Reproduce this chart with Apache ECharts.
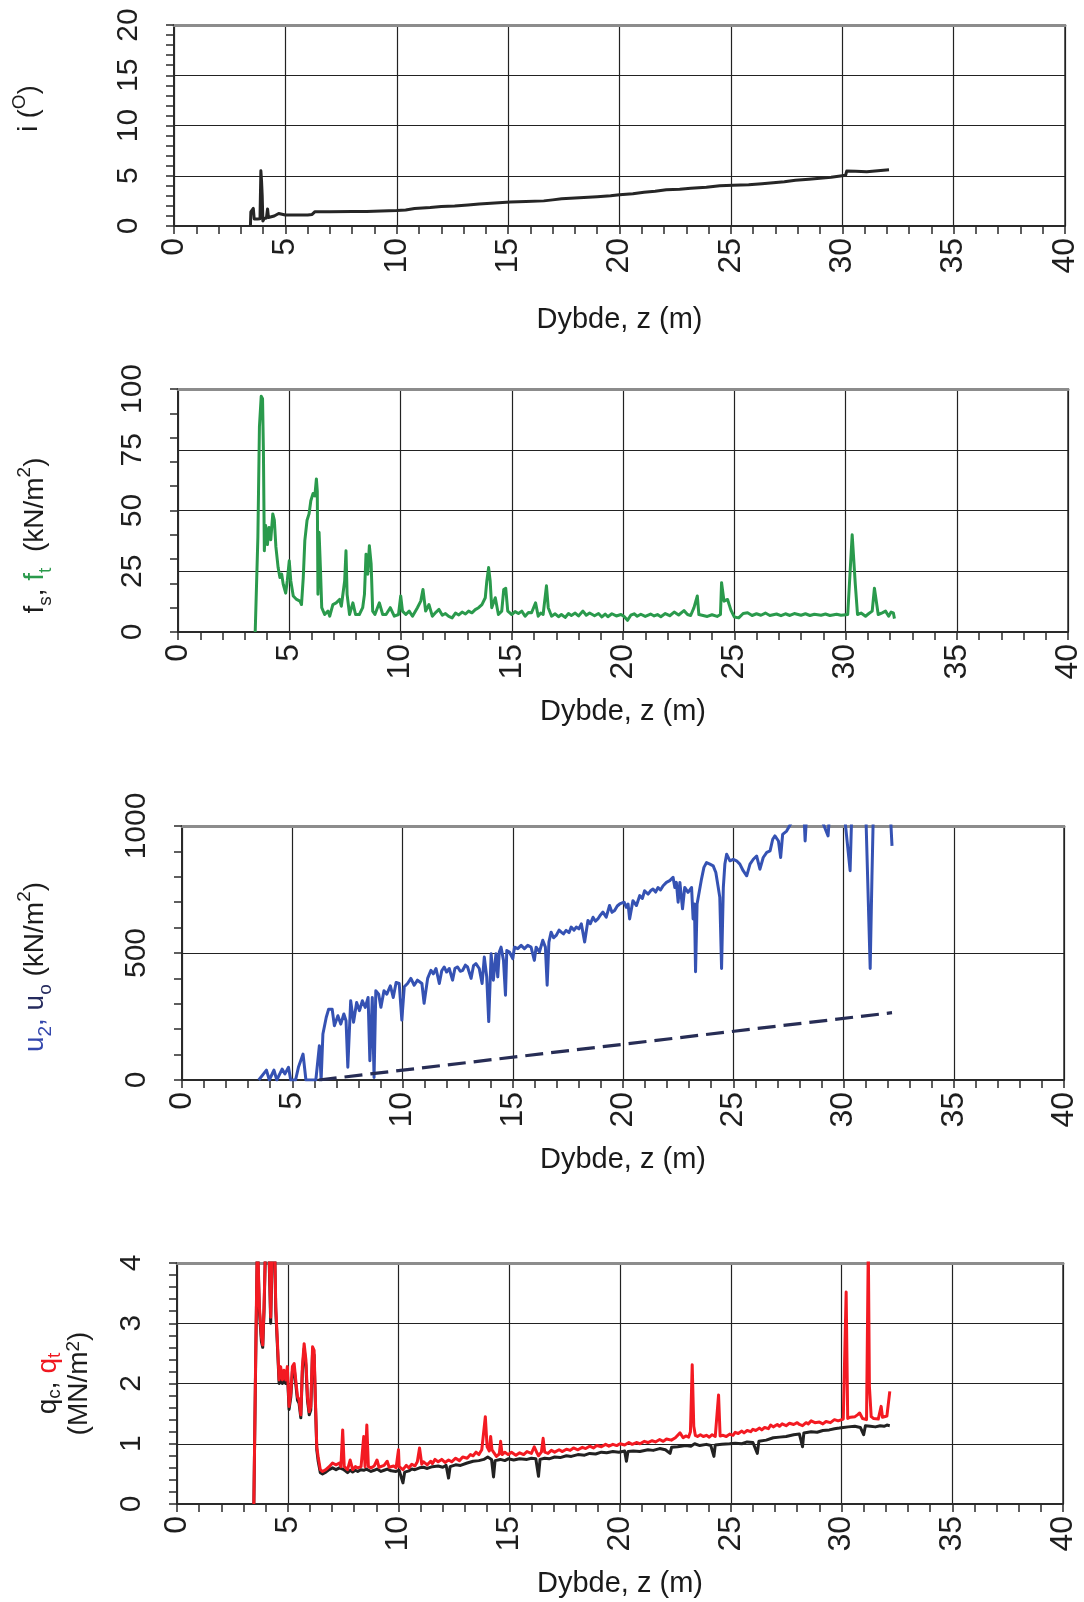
<!DOCTYPE html>
<html>
<head>
<meta charset="utf-8">
<script src="https://cdn.jsdelivr.net/npm/echarts@6/dist/echarts.min.js"></script>
<style>
html,body{margin:0;padding:0;background:#fff;}
#chart{width:1084px;height:1602px;}
</style>
</head>
<body>
<div id="chart"></div>
<script>
// ---------- DATA (depth z in m, value) ----------
const depthTicks = [0, 5, 10, 15, 20, 25, 30, 35, 40];

// Panel 1: inclination i (deg)
const inclination = [[3.43,0],[3.45,1.4],[3.52,1.5],[3.56,1.75],[3.6,0.7],[3.64,0.65],[3.75,0.7],[3.86,0.72],[3.9,5.5],[3.93,4.5],[3.96,3.0],[3.99,0.5],[4.05,0.75],[4.15,0.8],[4.2,1.7],[4.24,0.85],[4.3,0.9],[4.5,1.0],[4.7,1.25],[5.0,1.1],[5.5,1.1],[6.0,1.1],[6.2,1.15],[6.33,1.43],[7.0,1.43],[8.0,1.45],[8.65,1.45],[9.3,1.5],[10.0,1.55],[10.4,1.6],[10.8,1.75],[11.5,1.85],[12.0,1.95],[12.6,2.0],[13.2,2.1],[13.7,2.2],[14.4,2.3],[15.1,2.4],[15.8,2.45],[16.6,2.5],[17.0,2.6],[17.4,2.7],[18.2,2.8],[19.0,2.9],[19.6,3.0],[20.0,3.1],[20.6,3.2],[21.1,3.35],[21.6,3.45],[22.1,3.6],[22.7,3.65],[23.2,3.75],[23.9,3.85],[24.5,4.0],[25.1,4.05],[25.8,4.1],[26.4,4.2],[26.9,4.3],[27.4,4.4],[27.9,4.55],[28.5,4.65],[29.0,4.75],[29.5,4.85],[30.0,5.0],[30.15,5.05],[30.2,5.47],[30.6,5.45],[31.1,5.4],[31.6,5.5],[32.1,5.6]];

// Panel 2: sleeve friction f (kN/m2)
const friction = [[3.47,0],[3.59,39],[3.66,84.5],[3.74,97],[3.8,96],[3.84,73.5],[3.88,33.4],[3.94,43.8],[4.02,36],[4.09,43],[4.17,38],[4.26,48.6],[4.33,46],[4.4,35],[4.5,26.5],[4.58,22.4],[4.66,23.8],[4.73,19.6],[4.84,16],[4.91,21],[5.0,29.3],[5.07,21],[5.18,14.8],[5.33,13.4],[5.48,12.7],[5.55,11.3],[5.63,22.4],[5.7,37.6],[5.8,46],[5.89,48.6],[5.97,54],[6.07,57],[6.15,56],[6.22,63],[6.26,58],[6.29,15.5],[6.34,41],[6.4,26.5],[6.46,10],[6.59,7.2],[6.74,8.6],[6.82,6.5],[6.96,11.3],[7.11,12],[7.26,13.4],[7.34,10.6],[7.41,11.3],[7.49,21],[7.55,33.4],[7.6,15.5],[7.71,7.2],[7.86,12],[7.98,7.2],[8.15,7.2],[8.3,10],[8.38,15.5],[8.45,32],[8.53,23.8],[8.6,35.5],[8.68,28],[8.75,8.6],[8.85,7.2],[9.05,12],[9.2,7.2],[9.35,7.2],[9.54,10],[9.72,6.5],[9.91,7.2],[10.01,14.8],[10.09,8.6],[10.24,7.2],[10.39,8.6],[10.54,6.5],[10.76,10],[10.91,12.7],[11.01,17.5],[11.13,8.6],[11.28,11.3],[11.43,6.5],[11.6,8.2],[11.73,9.3],[11.88,6.9],[12.02,7.6],[12.17,6.4],[12.32,5.8],[12.47,7.8],[12.62,7.0],[12.77,8.2],[12.92,7.4],[13.06,8.6],[13.21,7.9],[13.36,9.2],[13.51,10],[13.66,11.3],[13.81,14.1],[13.88,21],[13.96,26.5],[14.03,21],[14.1,10],[14.26,14.1],[14.4,7.2],[14.55,8.6],[14.64,17.5],[14.73,18],[14.82,8.6],[15.0,7.2],[15.15,8.4],[15.3,7.6],[15.45,8.6],[15.6,6.5],[15.75,8.0],[15.89,7.9],[16.07,12],[16.19,6.5],[16.3,7.8],[16.41,7.2],[16.56,19],[16.64,10],[16.79,6.5],[16.95,7.5],[17.1,6.3],[17.23,7.2],[17.4,6.0],[17.55,7.6],[17.68,6.8],[17.85,7.8],[18.0,6.6],[18.2,8.6],[18.35,6.9],[18.5,7.8],[18.72,6.7],[18.9,7.6],[19.05,6.2],[19.2,7.4],[19.32,6.3],[19.5,7.5],[19.7,6.6],[19.91,7.2],[20.05,6.4],[20.2,4.8],[20.35,6.9],[20.5,7.5],[20.64,6.5],[20.8,7.3],[21.0,6.4],[21.24,7.4],[21.4,6.6],[21.55,7.2],[21.7,6.3],[21.9,7.6],[22.1,6.7],[22.3,8.2],[22.5,7.0],[22.74,8.8],[22.9,7.2],[23.04,6.8],[23.19,10],[23.34,14.8],[23.41,7.2],[23.6,6.8],[23.79,6.4],[24.0,7.1],[24.23,6.4],[24.38,7.2],[24.43,20.3],[24.54,12.7],[24.7,13.4],[24.85,9],[25.0,6.2],[25.2,5.8],[25.4,7.6],[25.6,7.9],[25.8,6.8],[26.0,7.5],[26.2,6.9],[26.4,7.8],[26.6,6.8],[26.9,7.4],[27.1,6.7],[27.3,7.5],[27.5,6.8],[27.7,7.6],[28.0,6.9],[28.2,7.5],[28.4,6.8],[28.6,7.3],[28.9,6.9],[29.1,7.4],[29.3,6.8],[29.6,7.3],[29.8,6.9],[30.1,7.2],[30.3,40],[30.44,19.7],[30.54,7.2],[30.7,7.8],[30.9,6.5],[31.05,7.6],[31.2,8.6],[31.3,18],[31.47,7.2],[31.65,7.9],[31.8,8.6],[31.94,6.5],[32.05,8.2],[32.15,7.9],[32.2,5.5]];

// Panel 3: pore pressure u2 (kN/m2) and hydrostatic u0
const poreU2 = [[3.48,0],[3.83,39],[3.96,0],[4.17,39],[4.3,0],[4.54,43],[4.67,24],[4.83,50],[4.93,0],[5.15,0],[5.28,50],[5.49,102],[5.62,0],[6.07,0],[6.23,135],[6.31,0],[6.39,181],[6.54,246],[6.65,279],[6.81,279],[6.91,214],[7.07,253],[7.2,220],[7.34,260],[7.44,233],[7.52,50],[7.65,312],[7.78,227],[7.92,305],[8.05,273],[8.18,312],[8.31,286],[8.44,325],[8.52,76],[8.63,325],[8.71,10],[8.79,351],[8.92,338],[9.02,286],[9.16,351],[9.29,338],[9.45,371],[9.58,325],[9.71,384],[9.85,380],[9.97,236],[10.08,367],[10.23,380],[10.38,400],[10.53,373],[10.68,393],[10.88,380],[10.98,302],[11.14,400],[11.29,432],[11.4,418],[11.52,439],[11.67,380],[11.78,430],[11.89,445],[12.0,425],[12.12,439],[12.27,393],[12.38,440],[12.5,445],[12.62,428],[12.73,432],[12.85,452],[12.95,445],[13.11,400],[13.22,450],[13.33,458],[13.48,439],[13.61,380],[13.71,484],[13.82,406],[13.91,230],[14.02,497],[14.12,393],[14.24,497],[14.32,406],[14.39,504],[14.47,523],[14.58,471],[14.67,334],[14.73,510],[14.85,504],[15.0,478],[15.08,523],[15.23,517],[15.38,530],[15.53,517],[15.68,530],[15.83,523],[15.98,471],[16.06,523],[16.21,504],[16.36,550],[16.48,523],[16.56,373],[16.64,543],[16.74,582],[16.85,560],[16.97,569],[17.1,590],[17.2,582],[17.3,575],[17.42,589],[17.55,580],[17.65,602],[17.78,590],[17.88,602],[18.0,595],[18.11,615],[18.26,543],[18.41,628],[18.52,615],[18.64,641],[18.75,625],[18.86,634],[18.98,650],[19.09,661],[19.24,641],[19.39,687],[19.5,660],[19.62,667],[19.74,685],[19.85,693],[20.05,700],[20.15,680],[20.23,693],[20.3,634],[20.45,706],[20.61,687],[20.76,726],[20.88,715],[20.98,745],[21.14,732],[21.25,745],[21.36,752],[21.48,740],[21.59,758],[21.7,748],[21.82,765],[21.97,778],[22.12,785],[22.27,798],[22.35,758],[22.42,778],[22.5,700],[22.58,778],[22.7,674],[22.8,758],[22.95,739],[23.11,758],[23.18,634],[23.24,693],[23.29,426],[23.36,693],[23.45,687],[23.56,791],[23.67,837],[23.79,856],[23.94,850],[24.09,843],[24.21,817],[24.32,758],[24.39,719],[24.47,439],[24.55,758],[24.62,850],[24.7,889],[24.85,863],[25.0,869],[25.15,863],[25.3,850],[25.45,824],[25.61,804],[25.76,850],[25.91,869],[26.06,882],[26.21,830],[26.36,876],[26.52,896],[26.67,902],[26.79,948],[26.89,961],[27.05,941],[27.15,876],[27.24,967],[27.42,980],[27.55,1000],[27.8,1040],[28.2,1060],[28.26,941],[28.33,1050],[28.8,1070],[29.3,961],[29.38,1060],[30.0,1080],[30.3,824],[30.38,1070],[31.0,1090],[31.21,439],[31.29,798],[31.36,1080],[32.1,1090],[32.2,922]];
const poreU0 = [[6.2,0],[32.2,265]];

// Panel 4: cone resistance qc and corrected qt (MN/m2)
const coneQt = [[3.47,0],[3.55,2.39],[3.63,4.5],[3.72,3.27],[3.81,2.78],[3.87,2.64],[3.93,3.27],[4.0,4.4],[4.15,4.3],[4.23,3.1],[4.3,4.3],[4.41,4.3],[4.46,3.27],[4.53,2.72],[4.61,2.06],[4.68,2.28],[4.76,2.06],[4.83,2.22],[4.91,2.06],[4.98,2.28],[5.06,1.62],[5.14,1.84],[5.21,2.28],[5.29,2.33],[5.36,2.06],[5.44,1.78],[5.51,1.73],[5.59,1.48],[5.66,2.28],[5.74,2.66],[5.82,2.39],[5.89,1.78],[5.97,1.53],[6.04,1.62],[6.12,2.61],[6.19,2.55],[6.24,1.84],[6.31,0.95],[6.37,0.79],[6.47,0.57],[6.57,0.54],[6.72,0.57],[6.87,0.62],[7.02,0.68],[7.18,0.65],[7.33,0.68],[7.4,0.62],[7.48,1.23],[7.55,0.62],[7.7,0.57],[7.82,0.73],[7.93,0.57],[8.05,0.62],[8.16,0.6],[8.31,0.62],[8.43,1.12],[8.49,0.62],[8.57,1.31],[8.64,0.62],[8.76,0.6],[8.9,0.63],[9.03,0.73],[9.12,0.61],[9.21,0.6],[9.35,0.64],[9.49,0.71],[9.58,0.61],[9.67,0.6],[9.78,0.63],[9.89,0.6],[10.0,0.9],[10.03,0.62],[10.2,0.57],[10.35,0.64],[10.47,0.6],[10.6,0.66],[10.74,0.63],[10.85,0.7],[10.95,0.93],[11.05,0.66],[11.13,0.7],[11.3,0.65],[11.45,0.71],[11.53,0.67],[11.65,0.74],[11.79,0.7],[11.95,0.74],[12.1,0.69],[12.26,0.73],[12.4,0.7],[12.58,0.76],[12.75,0.72],[12.9,0.78],[13.1,0.76],[13.25,0.82],[13.37,0.8],[13.5,0.86],[13.63,0.82],[13.76,0.9],[13.85,0.88],[13.92,1.45],[14.0,0.95],[14.1,0.88],[14.16,1.12],[14.22,0.9],[14.29,0.86],[14.42,0.79],[14.55,0.83],[14.61,1.04],[14.68,0.82],[14.8,0.86],[14.95,0.82],[15.1,0.86],[15.3,0.81],[15.47,0.85],[15.65,0.82],[15.8,0.87],[16.0,0.84],[16.13,0.95],[16.25,0.85],[16.32,0.8],[16.45,0.86],[16.53,1.09],[16.6,0.86],[16.75,0.84],[16.9,0.89],[17.05,0.86],[17.25,0.9],[17.4,0.87],[17.58,0.91],[17.75,0.89],[17.9,0.93],[18.1,0.9],[18.3,0.94],[18.45,0.92],[18.63,0.96],[18.8,0.93],[18.95,0.97],[19.16,0.95],[19.35,0.99],[19.5,0.96],[19.68,0.99],[19.85,0.97],[20.0,1.0],[20.21,0.98],[20.4,1.02],[20.55,0.99],[20.74,1.02],[20.9,1.0],[21.1,1.04],[21.26,1.02],[21.45,1.05],[21.6,1.03],[21.79,1.07],[21.95,1.04],[22.1,1.08],[22.32,1.06],[22.5,1.1],[22.71,1.18],[22.85,1.1],[22.97,1.13],[23.1,1.11],[23.18,1.2],[23.26,2.31],[23.33,1.29],[23.4,1.14],[23.5,1.12],[23.63,1.15],[23.76,1.12],[23.9,1.14],[24.03,1.11],[24.16,1.15],[24.3,1.12],[24.37,1.14],[24.45,1.81],[24.52,1.13],[24.65,1.14],[24.8,1.12],[24.95,1.16],[25.1,1.14],[25.2,1.19],[25.34,1.17],[25.5,1.21],[25.6,1.18],[25.74,1.22],[25.9,1.2],[26.0,1.24],[26.13,1.22],[26.3,1.26],[26.4,1.23],[26.53,1.27],[26.7,1.25],[26.8,1.31],[26.92,1.28],[27.1,1.32],[27.2,1.29],[27.32,1.33],[27.5,1.3],[27.65,1.34],[27.84,1.32],[28.0,1.35],[28.1,1.32],[28.24,1.3],[28.4,1.35],[28.5,1.33],[28.63,1.38],[28.8,1.35],[29.0,1.36],[29.16,1.33],[29.3,1.37],[29.5,1.35],[29.68,1.4],[29.85,1.38],[30.08,1.41],[30.15,1.4],[30.21,3.52],[30.28,1.42],[30.4,1.44],[30.61,1.45],[30.72,1.48],[30.82,1.51],[30.95,1.42],[31.13,1.4],[31.21,4.3],[31.26,1.95],[31.34,1.45],[31.45,1.42],[31.53,1.4],[31.66,1.41],[31.79,1.62],[31.85,1.44],[31.92,1.45],[32.05,1.46],[32.18,1.87]];
const coneQc = [[3.47,0],[3.55,2.3],[3.63,4.4],[3.72,3.2],[3.81,2.7],[3.87,2.6],[3.93,3.2],[4.0,4.3],[4.15,4.2],[4.23,3.0],[4.3,4.2],[4.41,4.2],[4.46,3.2],[4.53,2.65],[4.61,2.0],[4.68,2.2],[4.76,2.0],[4.83,2.15],[4.91,2.0],[4.98,2.2],[5.06,1.57],[5.14,1.78],[5.21,2.2],[5.29,2.25],[5.36,2.0],[5.44,1.72],[5.51,1.67],[5.59,1.43],[5.66,2.2],[5.74,2.58],[5.82,2.3],[5.89,1.72],[5.97,1.48],[6.04,1.56],[6.12,2.53],[6.19,2.47],[6.24,1.78],[6.31,0.9],[6.37,0.72],[6.47,0.52],[6.57,0.5],[6.72,0.53],[6.87,0.57],[7.02,0.6],[7.18,0.57],[7.33,0.6],[7.48,0.58],[7.6,0.55],[7.7,0.52],[7.82,0.56],[7.93,0.53],[8.05,0.56],[8.16,0.54],[8.3,0.57],[8.43,0.56],[8.55,0.58],[8.64,0.55],[8.76,0.54],[8.9,0.56],[9.03,0.58],[9.21,0.54],[9.35,0.56],[9.49,0.58],[9.67,0.55],[9.89,0.54],[10.03,0.56],[10.2,0.35],[10.28,0.53],[10.47,0.55],[10.6,0.58],[10.74,0.57],[10.95,0.6],[11.13,0.61],[11.3,0.59],[11.53,0.62],[11.79,0.63],[12.0,0.61],[12.15,0.64],[12.26,0.43],[12.33,0.62],[12.58,0.65],[12.8,0.64],[13.1,0.68],[13.37,0.71],[13.63,0.72],[13.85,0.74],[14.03,0.78],[14.2,0.74],[14.29,0.45],[14.36,0.72],[14.6,0.74],[14.8,0.72],[14.95,0.75],[15.2,0.73],[15.47,0.75],[15.8,0.74],[16.0,0.76],[16.2,0.75],[16.32,0.46],[16.39,0.74],[16.6,0.76],[16.8,0.75],[17.05,0.78],[17.3,0.77],[17.58,0.8],[17.8,0.79],[18.1,0.82],[18.4,0.81],[18.63,0.84],[18.9,0.83],[19.16,0.86],[19.4,0.85],[19.68,0.87],[19.95,0.86],[20.21,0.88],[20.29,0.71],[20.36,0.87],[20.6,0.88],[20.9,0.87],[21.26,0.9],[21.5,0.89],[21.79,0.92],[22.05,0.9],[22.26,0.84],[22.33,0.94],[22.6,0.95],[22.97,0.97],[23.2,0.96],[23.37,1.0],[23.6,0.97],[23.9,0.99],[24.1,0.97],[24.24,0.79],[24.3,0.98],[24.6,0.99],[24.95,1.0],[25.2,1.01],[25.5,1.0],[25.74,1.03],[26.0,1.02],[26.2,0.84],[26.27,1.04],[26.6,1.06],[26.92,1.1],[27.2,1.11],[27.5,1.12],[27.84,1.15],[28.1,1.16],[28.24,0.95],[28.3,1.18],[28.63,1.2],[28.9,1.19],[29.16,1.22],[29.45,1.23],[29.68,1.25],[29.9,1.26],[30.08,1.27],[30.3,1.28],[30.6,1.29],[30.85,1.27],[31.0,1.15],[31.08,1.3],[31.3,1.29],[31.53,1.28],[31.75,1.3],[31.92,1.29],[32.05,1.31],[32.18,1.3]];

// Axis ranges / tick labels
const xTitle = 'Dybde, z (m)';
const yRanges = [
  {min: 0, max: 20, interval: 5},
  {min: 0, max: 100, interval: 25},
  {min: 0, max: 1000, interval: 500},
  {min: 0, max: 4, interval: 1}
];

// ---------- STYLE ----------
const FONT = "'Liberation Sans', Arial, Helvetica, sans-serif";
const AX = '#2a2a2a';
const C = {k: '#1c1c1c', g: '#2a9a4c', b: '#3347ad', v: '#262b5e', r: '#f01820'};

function makeRich(lh, fs, sfs, shift) {
  const sl = lh - 2 * shift;
  const rich = {};
  Object.keys(C).forEach(function (key) {
    rich[key] = {fontSize: fs, lineHeight: lh, color: C[key], fontFamily: FONT};
    rich[key + 's'] = {fontSize: sfs, lineHeight: sl, verticalAlign: 'bottom', color: C[key], fontFamily: FONT};
    rich[key + 'u'] = {fontSize: sfs, lineHeight: sl, verticalAlign: 'top', color: C[key], fontFamily: FONT};
  });
  return rich;
}

const grids = [
  {left: 174, top: 25, width: 891, height: 201},
  {left: 178, top: 389, width: 891, height: 243},
  {left: 182, top: 826, width: 882, height: 254},
  {left: 177, top: 1263, width: 886, height: 241}
];
const xNameGaps = [79, 65, 65, 65];

const yNames = [
  '{k|i (}{ku|O}{k|)}',
  '{k|f}{ks|s}{k|, }{g|f}{gs|t}{k|  (kN/m}{ku|2}{k|)}',
  '{b|u}{bs|2}{b|, }{v|u}{vs|o}{k| (kN/m}{ku|2}{k|)}',
  '{k|q}{ks|c}{k|, }{r|q}{rs|t}\n{k|(MN/m}{ku|2}{k|)}'
];
const yNameGaps = [124, 123, 127, 82];
const yNamePads = [[0,0,0,34],[0,50,0,0],[0,28,0,0],[0,0,0,0]];
const yRich = [makeRich(40, 27, 19, 6), makeRich(40, 28, 19, 8), makeRich(40, 28, 19, 8), makeRich(31, 28, 19, 7)];

const xAxes = [], yAxes = [];
grids.forEach(function (g, i) {
  xAxes.push({
    type: 'value', gridIndex: i, position: 'bottom', min: 0, max: 40, interval: 5,
    name: xTitle, nameLocation: 'middle', nameGap: xNameGaps[i],
    nameTextStyle: {fontFamily: FONT, fontSize: 29, color: '#1a1a1a'},
    axisLine: {show: true, onZero: false, lineStyle: {color: AX, width: 2}},
    axisTick: {show: true, length: 8, lineStyle: {color: AX, width: 1.5}},
    minorTick: {show: true, splitNumber: 5, length: 8, lineStyle: {color: AX, width: 1.5}},
    splitLine: {show: true, lineStyle: {color: '#222', width: 1.2}},
    axisLabel: {rotate: 90, fontSize: 32, margin: 12, color: '#1e1e1e', fontFamily: FONT,
      formatter: function (v) { return depthTicks.indexOf(v) >= 0 ? String(v) : ''; }}
  });
  xAxes.push({
    type: 'value', gridIndex: i, position: 'top', min: 0, max: 40,
    axisLine: {show: true, onZero: false, lineStyle: {color: '#8c8c8c', width: 3}},
    axisTick: {show: false}, axisLabel: {show: false}, splitLine: {show: false}
  });
});

function mainY(i, opts) {
  const r = yRanges[i];
  return Object.assign({
    type: 'value', gridIndex: i, position: 'left', min: r.min, max: r.max, interval: r.interval,
    name: yNames[i], nameLocation: 'middle', nameGap: yNameGaps[i], nameRotate: 90,
    nameTextStyle: {rich: yRich[i], padding: yNamePads[i], align: 'center'},
    axisLine: {show: true, onZero: false, lineStyle: {color: AX, width: 2}},
    axisTick: {show: true, length: 8, lineStyle: {color: AX, width: 1.5}},
    minorTick: {show: true, splitNumber: 5, length: 8, lineStyle: {color: AX, width: 1.5}},
    splitLine: {show: true, lineStyle: {color: '#222', width: 1.2}},
    axisLabel: {rotate: 90, fontSize: 30, margin: 30, color: '#1e1e1e', fontFamily: FONT,
      formatter: function (v) { return String(v); }}
  }, opts || {});
}
yAxes.push(mainY(0));
yAxes.push(mainY(1, {axisTick: {show: false}, minorTick: {show: false}}));
yAxes.push({
  type: 'value', gridIndex: 1, position: 'left', min: 0, max: 100, interval: 10,
  axisLine: {show: false}, axisLabel: {show: false}, splitLine: {show: false},
  axisTick: {show: true, length: 8, lineStyle: {color: AX, width: 1.5}}
});
yAxes.push(mainY(2));
yAxes.push(mainY(3));

function line(data, xi, yi, color, width, extra) {
  return Object.assign({
    type: 'line', data: data, xAxisIndex: xi, yAxisIndex: yi,
    showSymbol: false, symbol: 'none', clip: true, silent: true,
    lineStyle: {color: color, width: width, join: 'round'}, z: 3
  }, extra || {});
}

const option = {
  backgroundColor: '#ffffff',
  animation: false,
  grid: grids.map(function (g) {
    return Object.assign({show: true, borderColor: '#333', borderWidth: 1.5, containLabel: false}, g);
  }),
  xAxis: xAxes,
  yAxis: yAxes,
  series: [
    line(inclination, 0, 0, '#262626', 3),
    line(friction, 2, 1, C.g, 3),
    line(poreU2, 4, 3, '#3552b3', 3),
    line(poreU0, 4, 3, '#272d55', 3, {lineStyle: {color: '#272d55', width: 3.2, type: [18, 8]}}),
    line(coneQc, 6, 4, '#222222', 3),
    line(coneQt, 6, 4, '#f31a22', 3)
  ]
};

const chart = echarts.init(document.getElementById('chart'), null, {renderer: 'canvas'});
chart.setOption(option);
</script>
</body>
</html>
